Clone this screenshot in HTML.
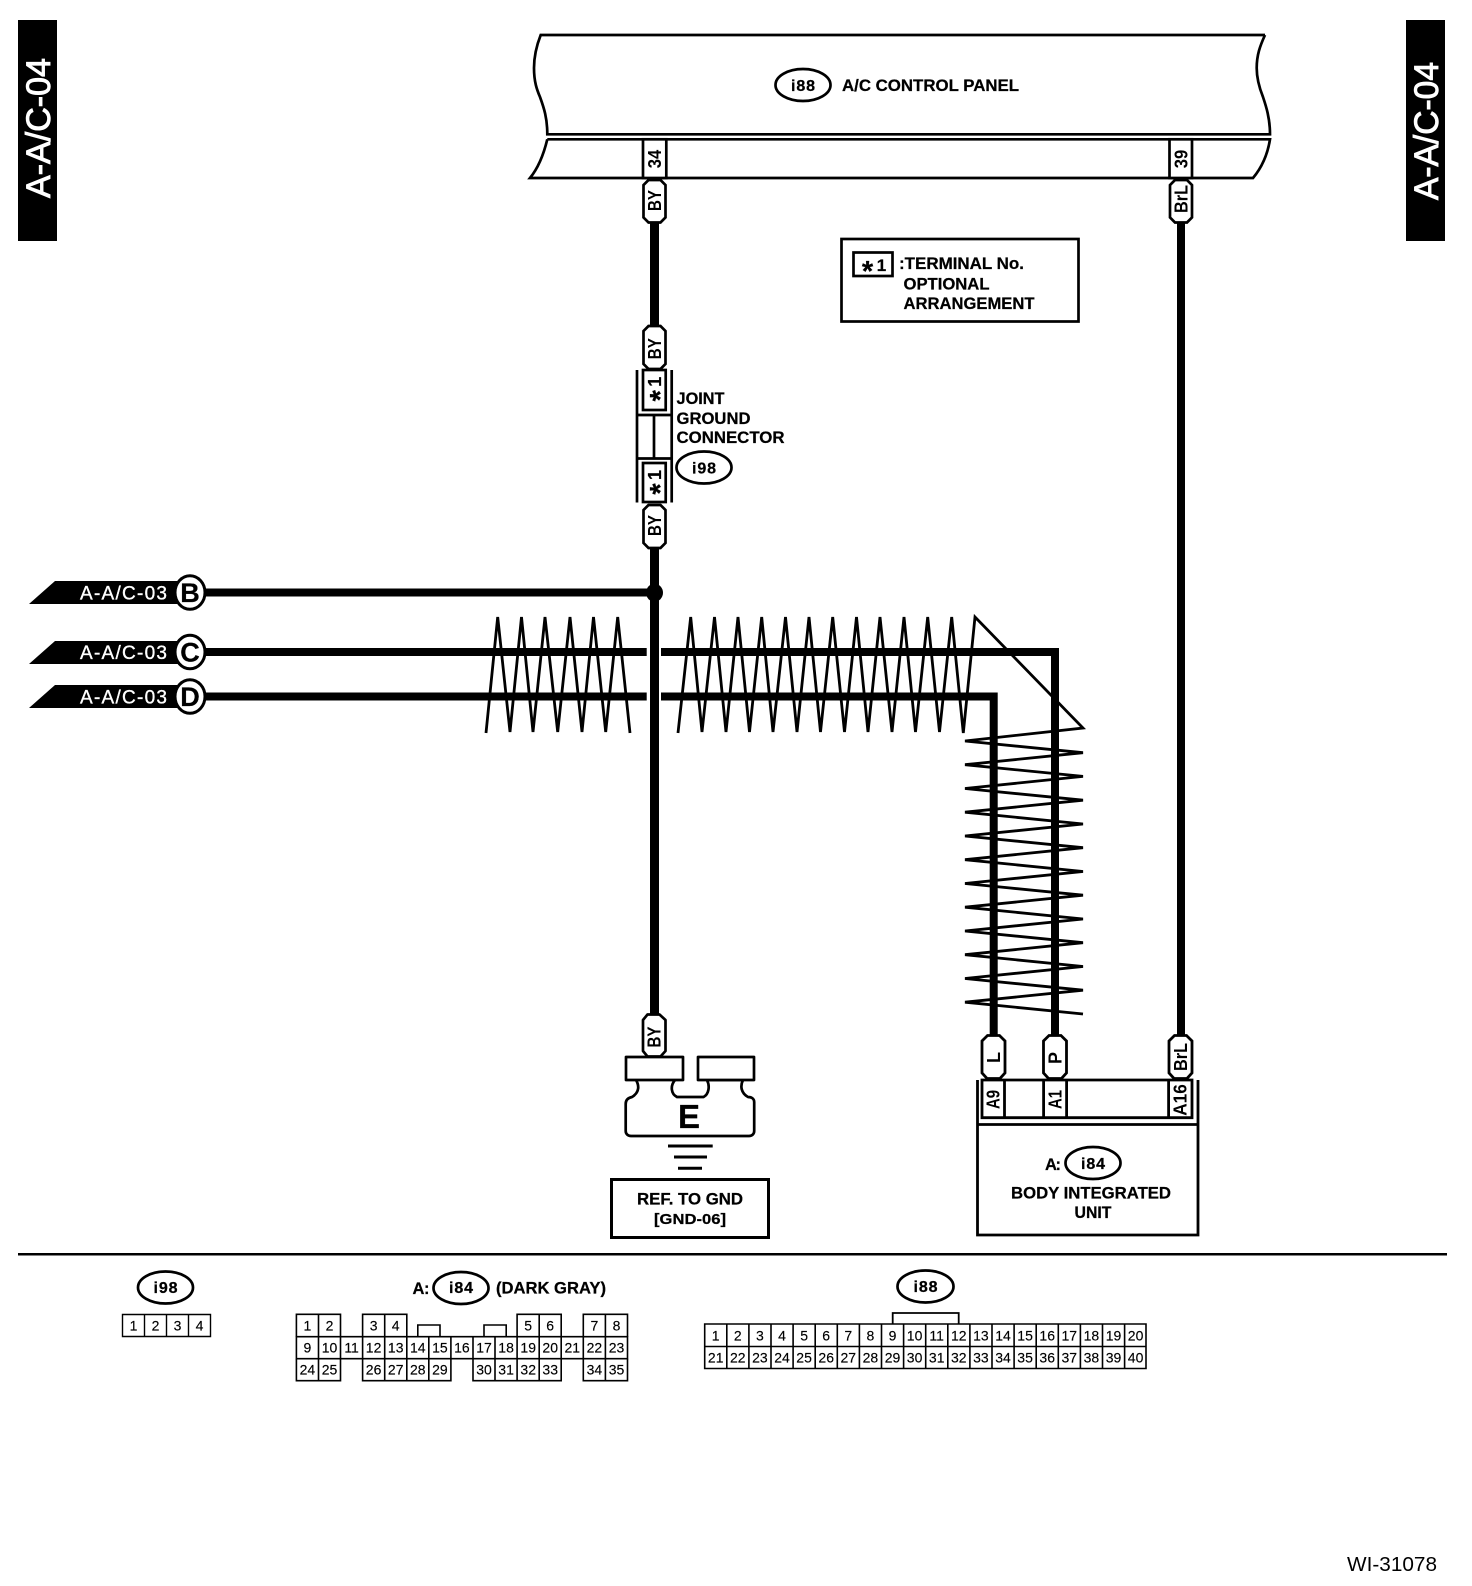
<!DOCTYPE html>
<html><head><meta charset="utf-8"><title>A-A/C-04</title>
<style>
html,body{margin:0;padding:0;background:#fff}
svg{display:block}
text{font-family:"Liberation Sans",Arial,sans-serif;fill:#000}
.b{font-weight:bold;stroke:#000;stroke-width:.25px}
.w{fill:#fff;stroke:#fff;stroke-width:.35px}
.m{text-anchor:middle}
.c{font-size:14px;text-anchor:middle;stroke:#000;stroke-width:.15px}
.r{font-size:18px;font-weight:bold;text-anchor:middle}
</style></head><body>
<svg width="1472" height="1586" viewBox="0 0 1472 1586" xmlns="http://www.w3.org/2000/svg">
<rect width="1472" height="1586" fill="#fff"/>

<!-- side tabs -->
<rect x="18" y="20" width="39" height="221" fill="#000"/>
<rect x="1406" y="20" width="39" height="221" fill="#000"/>
<text class="w" font-size="34" style="stroke-width:.9px" transform="translate(50,198) rotate(-90)" textLength="140" lengthAdjust="spacingAndGlyphs">A-A/C-04</text>
<text class="w" font-size="34" style="stroke-width:.9px" transform="translate(1438,200) rotate(-90)" textLength="138" lengthAdjust="spacingAndGlyphs">A-A/C-04</text>

<!-- panel -->
<g fill="none" stroke="#000" stroke-width="2.7">
<path d="M1265,35 H540.7 C536,47 534,57 534,68 C534,82 537,90 540,97 C544,108 547.3,118 547.3,134.3 H1270 C1270,118 1266,106 1263,97 C1259,87 1256.7,78 1256.7,68 C1256.7,55 1260,46 1265,35"/>
<path d="M547.3,139.3 H1270 C1268,152 1263,166 1253,178 H530 C539,167 544,153 547.3,139.3"/>
</g>
<ellipse cx="803" cy="85" rx="27.5" ry="16" fill="#fff" stroke="#000" stroke-width="2.7"/>
<text class="b m" font-size="16" x="803" y="91" textLength="24">i88</text>
<text class="b" font-size="16.5" x="842" y="91" textLength="177" lengthAdjust="spacingAndGlyphs">A/C CONTROL PANEL</text>

<!-- legend -->
<rect x="841.5" y="239" width="237" height="82.5" fill="#fff" stroke="#000" stroke-width="2.7"/>
<rect x="853.5" y="252.5" width="39" height="23.5" fill="#fff" stroke="#000" stroke-width="2.7"/>
<text class="b m" font-size="29" x="867.5" y="281">*</text>
<text class="b m" font-size="17" x="881.5" y="271">1</text>
<text class="b" font-size="16.5" x="899" y="269" textLength="125" lengthAdjust="spacingAndGlyphs">:TERMINAL No.</text>
<text class="b" font-size="16.5" x="903.5" y="289.5" textLength="86" lengthAdjust="spacingAndGlyphs">OPTIONAL</text>
<text class="b" font-size="16.5" x="903.5" y="309" textLength="131" lengthAdjust="spacingAndGlyphs">ARRANGEMENT</text>

<!-- zigzags -->
<g fill="none" stroke="#000" stroke-width="2.8" stroke-linejoin="miter" stroke-miterlimit="8">
<polyline points="486,733 497.7,617 510,732 521.5,617 533,732 545,617 557.7,732 570,617 582,732 593.5,617 605.7,732 617.7,617 630,733"/>
<polyline points="678,733 690.7,617 702,732 714.5,617 726,732 738,617 749.5,732 761.7,617 773,732 785.5,617 797,732 809,617 820.5,732 832.7,617 844.5,732 856.5,617 868,732 880,617 892,732 904,617 915.5,732 927.7,617 939.5,732 951.7,617 963.3,733 975,617 1083,728 965,741 1083,752.7 965,764.7 1083,776.4 965,788.5 1083,800.2 965,812.2 1083,824 965,836 1083,847.7 965,859.7 1083,871.5 965,883.5 1083,895.2 965,907.2 1083,919 965,931 1083,942.7 965,954.7 1083,966.5 965,978.5 1083,990.2 965,1002.2 1083,1014"/>
</g>

<!-- wires -->
<g fill="none" stroke="#000" stroke-width="8">
<path d="M178,592.5 H654"/>
<path d="M178,652 H646.7"/>
<path d="M661,652 H1055 V1036"/>
<path d="M178,696.5 H646.7"/>
<path d="M661,696.5 H993.7 V1036"/>
<path d="M1181,178 V1036"/>
</g>
<path d="M654.5,178 V326 M654.5,547 V1018" stroke="#000" stroke-width="9" fill="none"/>
<ellipse cx="654.5" cy="592.7" rx="8.5" ry="9" fill="#000"/>

<!-- off-page stubs -->
<polygon points="29,604 55,581 178,581 178,604" fill="#000"/>
<polygon points="29,664 55,641 178,641 178,664" fill="#000"/>
<polygon points="29,708 55,685 178,685 178,708" fill="#000"/>
<text class="w" font-size="19" x="80" y="599.5" textLength="87" lengthAdjust="spacing">A-A/C-03</text>
<text class="w" font-size="19" x="80" y="659" textLength="87" lengthAdjust="spacing">A-A/C-03</text>
<text class="w" font-size="19" x="80" y="703.5" textLength="87" lengthAdjust="spacing">A-A/C-03</text>
<g fill="#fff" stroke="#000" stroke-width="3">
<ellipse cx="190" cy="592.5" rx="15" ry="16.8"/>
<ellipse cx="190" cy="652" rx="15" ry="16.8"/>
<ellipse cx="190" cy="696.5" rx="15" ry="16.8"/>
</g>
<text class="b m" font-size="27" x="190" y="602">B</text>
<text class="b m" font-size="27" x="190" y="661.5">C</text>
<text class="b m" font-size="27" x="190" y="706">D</text>

<!-- terminals top -->
<g fill="#fff" stroke="#000" stroke-width="2.7">
<rect x="643" y="139.3" width="23.3" height="38.7"/>
<rect x="1169.5" y="139.3" width="22.5" height="38.7"/>
<polygon points="648.5,180 660.5,180 665.5,185 665.5,217.5 660.5,222.5 648.5,222.5 643.5,217.5 643.5,185"/>
<polygon points="1175,180 1187,180 1192,185 1192,217.5 1187,222.5 1175,222.5 1170,217.5 1170,185"/>
<polygon points="648.5,326 660.5,326 665.5,331 665.5,364 660.5,369 648.5,369 643.5,364 643.5,331"/>
<polygon points="648.5,505 660.5,505 665.5,510 665.5,543 660.5,548 648.5,548 643.5,543 643.5,510"/>
</g>
<text class="r" transform="translate(661,159) rotate(-90)" textLength="18.5" lengthAdjust="spacingAndGlyphs">34</text>
<text class="r" transform="translate(1187.5,159) rotate(-90)" textLength="18.5" lengthAdjust="spacingAndGlyphs">39</text>
<text class="r" transform="translate(661,200.5) rotate(-90)" textLength="21" lengthAdjust="spacingAndGlyphs">BY</text>
<text class="r" transform="translate(1187.5,199) rotate(-90)" textLength="28" lengthAdjust="spacingAndGlyphs">BrL</text>
<text class="r" transform="translate(661,348.7) rotate(-90)" textLength="21" lengthAdjust="spacingAndGlyphs">BY</text>
<text class="r" transform="translate(661,525.5) rotate(-90)" textLength="21" lengthAdjust="spacingAndGlyphs">BY</text>

<!-- joint connector -->
<g fill="none" stroke="#000" stroke-width="2.7">
<path d="M637,370 V502.5 M671.7,370 V502.5"/>
<path d="M637,415 H671.7 M637,458.5 H671.7 M654,415 V458.5"/>
<rect x="643" y="370" width="22.7" height="40"/>
<rect x="643" y="463" width="22.7" height="39"/>
</g>
<text class="b m" font-size="18" transform="translate(661,381.7) rotate(-90)">1</text>
<text class="b m" font-size="18" transform="translate(661,475) rotate(-90)">1</text>
<text class="b m" font-size="29" transform="translate(670,395.7) rotate(-90)">*</text>
<text class="b m" font-size="29" transform="translate(670,489) rotate(-90)">*</text>
<text class="b" font-size="16.5" x="676.5" y="404" textLength="48" lengthAdjust="spacingAndGlyphs">JOINT</text>
<text class="b" font-size="16.5" x="676.5" y="424" textLength="74" lengthAdjust="spacingAndGlyphs">GROUND</text>
<text class="b" font-size="16.5" x="676.5" y="443" textLength="108" lengthAdjust="spacingAndGlyphs">CONNECTOR</text>
<ellipse cx="704" cy="467.5" rx="27.5" ry="16" fill="#fff" stroke="#000" stroke-width="2.7"/>
<text class="b m" font-size="16" x="704" y="473.5" textLength="24">i98</text>

<!-- ground -->
<g fill="#fff" stroke="#000" stroke-width="2.7" stroke-linejoin="round">
<path d="M636,1080 C639,1085 640,1092 632,1097 C627,1098 625.7,1101 625.7,1104 V1131 C625.7,1134 628,1136 631,1136 H749 C752,1136 754.2,1134 754.2,1131 V1102 C754.2,1099 752,1097 748,1097 C741,1093 740,1086 743,1080 H707 C710,1086 709,1094 703.6,1097 H677 C671,1094 670,1086 675,1080"/>
<rect x="626" y="1057" width="57" height="23"/>
<rect x="698" y="1057" width="56" height="23"/>
<polygon points="647.5,1014.5 659.5,1014.5 665.5,1020 665.5,1051 660.5,1056.5 647.5,1056.5 643,1051 643,1020"/>
</g>
<text class="r" transform="translate(660.5,1037) rotate(-90)" textLength="21" lengthAdjust="spacingAndGlyphs">BY</text>
<text class="b m" font-size="33" x="689" y="1128">E</text>
<path d="M668,1146 H712.7 M674,1157 H707 M678,1168.3 H702" stroke="#000" stroke-width="3" fill="none"/>
<rect x="611.5" y="1179.5" width="157" height="58" fill="#fff" stroke="#000" stroke-width="3"/>
<text class="b m" font-size="16.5" x="690" y="1204.5" textLength="106" lengthAdjust="spacingAndGlyphs">REF. TO GND</text>
<text class="b m" font-size="15" x="690" y="1224" textLength="72" lengthAdjust="spacingAndGlyphs">[GND-06]</text>

<!-- unit -->
<g fill="#fff" stroke="#000" stroke-width="2.8">
<path d="M977.5,1080 V1235 H1198 V1080" />
<path d="M977.5,1124.5 H1198" fill="none"/>
<path d="M982,1080 H1192 V1117.7 H982 Z"/>
<path d="M1004.5,1080 V1117.7 M1043.6,1080 V1117.7 M1066.6,1080 V1117.7 M1168.6,1080 V1117.7" fill="none"/>
<polygon points="987.5,1035.5 999.5,1035.5 1005,1041 1005,1073 1000,1078.5 987,1078.5 982,1073 982,1041"/>
<polygon points="1049,1035.5 1061,1035.5 1066.5,1041 1066.5,1073 1061.5,1078.5 1048.5,1078.5 1043.5,1073 1043.5,1041"/>
<polygon points="1174.5,1035.5 1186.5,1035.5 1192,1041 1192,1073 1187,1078.5 1174,1078.5 1169,1073 1169,1041"/>
</g>
<text class="r" transform="translate(1000,1057.5) rotate(-90)">L</text>
<text class="r" transform="translate(1061.5,1058) rotate(-90)">P</text>
<text class="r" transform="translate(1187,1057) rotate(-90)" textLength="28" lengthAdjust="spacingAndGlyphs">BrL</text>
<text class="r" transform="translate(999.5,1099.5) rotate(-90)" textLength="19" lengthAdjust="spacingAndGlyphs">A9</text>
<text class="r" transform="translate(1061.5,1099.5) rotate(-90)" textLength="19" lengthAdjust="spacingAndGlyphs">A1</text>
<text class="r" transform="translate(1186.5,1100) rotate(-90)" textLength="31.5" lengthAdjust="spacingAndGlyphs">A16</text>
<text class="b" font-size="16.5" x="1045" y="1170" textLength="16">A:</text>
<ellipse cx="1093" cy="1163" rx="27.5" ry="16" fill="#fff" stroke="#000" stroke-width="2.7"/>
<text class="b m" font-size="16" x="1093" y="1169" textLength="24">i84</text>
<text class="b m" font-size="16.5" x="1091" y="1198.5" textLength="160" lengthAdjust="spacingAndGlyphs">BODY INTEGRATED</text>
<text class="b m" font-size="16.5" x="1093" y="1218" textLength="37" lengthAdjust="spacingAndGlyphs">UNIT</text>

<!-- separator -->
<rect x="18" y="1253" width="1429" height="2.5" fill="#000"/>

<!-- i98 -->
<ellipse cx="165.5" cy="1287.5" rx="27.5" ry="16" fill="#fff" stroke="#000" stroke-width="2.7"/>
<text class="b m" font-size="16" x="165.5" y="1293" textLength="24">i98</text>
<g fill="none" stroke="#000" stroke-width="1.4">
<path d="M122.5,1314.5 H210.5 V1336.5 H122.5 Z M144.5,1314.5 V1336.5 M166.5,1314.5 V1336.5 M188.5,1314.5 V1336.5"/>
</g>
<text class="c" x="133.5" y="1330.5">1</text><text class="c" x="155.5" y="1330.5">2</text><text class="c" x="177.5" y="1330.5">3</text><text class="c" x="199.5" y="1330.5">4</text>

<!-- i84 -->
<text class="b" font-size="16.5" x="412.5" y="1294" textLength="17">A:</text>
<ellipse cx="461" cy="1288" rx="27.5" ry="16" fill="#fff" stroke="#000" stroke-width="2.7"/>
<text class="b m" font-size="16" x="461" y="1293" textLength="24">i84</text>
<text class="b" font-size="16.5" x="496" y="1293.5" textLength="110" lengthAdjust="spacingAndGlyphs">(DARK GRAY)</text>
<g fill="none" stroke="#000" stroke-width="1.6">
<path d="M296.4,1336.7 H627.5 V1358.7 H296.4 Z"/>
<path d="M296.4,1336.7 V1314.3 H340.5 V1336.7 M318.5,1314.3 V1336.7"/>
<path d="M362.6,1336.7 V1314.3 H406.8 V1336.7 M384.7,1314.3 V1336.7"/>
<path d="M417.8,1336.7 V1325 H440 V1336.7 M484,1336.7 V1325 H506.2 V1336.7"/>
<path d="M517.1,1336.7 V1314.3 H561.2 V1336.7 M539.2,1314.3 V1336.7"/>
<path d="M583.3,1336.7 V1314.3 H627.5 V1336.7 M605.4,1314.3 V1336.7"/>
<path d="M318.5,1336.7 V1358.7 M340.5,1336.7 V1358.7 M362.6,1336.7 V1358.7 M384.7,1336.7 V1358.7 M406.8,1336.7 V1358.7 M428.8,1336.7 V1358.7 M450.9,1336.7 V1358.7 M473,1336.7 V1358.7 M495,1336.7 V1358.7 M517.1,1336.7 V1358.7 M539.2,1336.7 V1358.7 M561.2,1336.7 V1358.7 M583.3,1336.7 V1358.7 M605.4,1336.7 V1358.7"/>
<path d="M296.4,1358.7 V1380.7 H340.5 V1358.7 M318.5,1358.7 V1380.7"/>
<path d="M362.6,1358.7 V1380.7 H450.9 V1358.7 M384.7,1358.7 V1380.7 M406.8,1358.7 V1380.7 M428.8,1358.7 V1380.7"/>
<path d="M473,1358.7 V1380.7 H561.2 V1358.7 M495,1358.7 V1380.7 M517.1,1358.7 V1380.7 M539.2,1358.7 V1380.7"/>
<path d="M583.3,1358.7 V1380.7 H627.5 V1358.7 M605.4,1358.7 V1380.7"/>
</g>
<text class="c" x="307.4" y="1330.5">1</text><text class="c" x="329.5" y="1330.5">2</text><text class="c" x="373.6" y="1330.5">3</text><text class="c" x="395.7" y="1330.5">4</text><text class="c" x="528.2" y="1330.5">5</text><text class="c" x="550.2" y="1330.5">6</text><text class="c" x="594.4" y="1330.5">7</text><text class="c" x="616.5" y="1330.5">8</text>
<text class="c" x="307.4" y="1352.7">9</text><text class="c" x="329.5" y="1352.7">10</text><text class="c" x="351.6" y="1352.7">11</text><text class="c" x="373.6" y="1352.7">12</text><text class="c" x="395.7" y="1352.7">13</text><text class="c" x="417.8" y="1352.7">14</text><text class="c" x="439.9" y="1352.7">15</text><text class="c" x="461.9" y="1352.7">16</text><text class="c" x="484" y="1352.7">17</text><text class="c" x="506.1" y="1352.7">18</text><text class="c" x="528.2" y="1352.7">19</text><text class="c" x="550.2" y="1352.7">20</text><text class="c" x="572.3" y="1352.7">21</text><text class="c" x="594.4" y="1352.7">22</text><text class="c" x="616.5" y="1352.7">23</text>
<text class="c" x="307.4" y="1374.7">24</text><text class="c" x="329.5" y="1374.7">25</text><text class="c" x="373.6" y="1374.7">26</text><text class="c" x="395.7" y="1374.7">27</text><text class="c" x="417.8" y="1374.7">28</text><text class="c" x="439.9" y="1374.7">29</text><text class="c" x="484" y="1374.7">30</text><text class="c" x="506.1" y="1374.7">31</text><text class="c" x="528.2" y="1374.7">32</text><text class="c" x="550.2" y="1374.7">33</text><text class="c" x="594.4" y="1374.7">34</text><text class="c" x="616.5" y="1374.7">35</text>

<!-- i88 connector -->
<ellipse cx="925.5" cy="1286.5" rx="28" ry="16" fill="#fff" stroke="#000" stroke-width="2.7"/>
<text class="b m" font-size="16" x="925.5" y="1292" textLength="24">i88</text>
<path d="M892.7,1324 V1313 H958.7 V1324" fill="none" stroke="#000" stroke-width="1.8"/>
<g fill="none" stroke="#000" stroke-width="1.6">
<path d="M704.7,1324 H1146 V1368.5 H704.7 Z M704.7,1346.5 H1146"/>
<path d="M726.8,1324 V1368.5 M748.9,1324 V1368.5 M771,1324 V1368.5 M793.1,1324 V1368.5 M815.2,1324 V1368.5 M837.3,1324 V1368.5 M859.4,1324 V1368.5 M881.5,1324 V1368.5 M903.6,1324 V1368.5 M925.7,1324 V1368.5 M947.8,1324 V1368.5 M969.9,1324 V1368.5 M992,1324 V1368.5 M1014.1,1324 V1368.5 M1036.2,1324 V1368.5 M1058.3,1324 V1368.5 M1080.4,1324 V1368.5 M1102.5,1324 V1368.5 M1124.6,1324 V1368.5"/>
</g>
<text class="c" x="715.7" y="1340.5">1</text><text class="c" x="737.8" y="1340.5">2</text><text class="c" x="759.9" y="1340.5">3</text><text class="c" x="782" y="1340.5">4</text><text class="c" x="804.1" y="1340.5">5</text><text class="c" x="826.2" y="1340.5">6</text><text class="c" x="848.3" y="1340.5">7</text><text class="c" x="870.4" y="1340.5">8</text><text class="c" x="892.5" y="1340.5">9</text><text class="c" x="914.6" y="1340.5">10</text><text class="c" x="936.7" y="1340.5">11</text><text class="c" x="958.8" y="1340.5">12</text><text class="c" x="980.9" y="1340.5">13</text><text class="c" x="1003" y="1340.5">14</text><text class="c" x="1025.1" y="1340.5">15</text><text class="c" x="1047.2" y="1340.5">16</text><text class="c" x="1069.3" y="1340.5">17</text><text class="c" x="1091.4" y="1340.5">18</text><text class="c" x="1113.5" y="1340.5">19</text><text class="c" x="1135.6" y="1340.5">20</text>
<text class="c" x="715.7" y="1362.7">21</text><text class="c" x="737.8" y="1362.7">22</text><text class="c" x="759.9" y="1362.7">23</text><text class="c" x="782" y="1362.7">24</text><text class="c" x="804.1" y="1362.7">25</text><text class="c" x="826.2" y="1362.7">26</text><text class="c" x="848.3" y="1362.7">27</text><text class="c" x="870.4" y="1362.7">28</text><text class="c" x="892.5" y="1362.7">29</text><text class="c" x="914.6" y="1362.7">30</text><text class="c" x="936.7" y="1362.7">31</text><text class="c" x="958.8" y="1362.7">32</text><text class="c" x="980.9" y="1362.7">33</text><text class="c" x="1003" y="1362.7">34</text><text class="c" x="1025.1" y="1362.7">35</text><text class="c" x="1047.2" y="1362.7">36</text><text class="c" x="1069.3" y="1362.7">37</text><text class="c" x="1091.4" y="1362.7">38</text><text class="c" x="1113.5" y="1362.7">39</text><text class="c" x="1135.6" y="1362.7">40</text>

<text font-size="20" x="1347" y="1571" textLength="90" lengthAdjust="spacingAndGlyphs">WI-31078</text>
</svg>
</body></html>
